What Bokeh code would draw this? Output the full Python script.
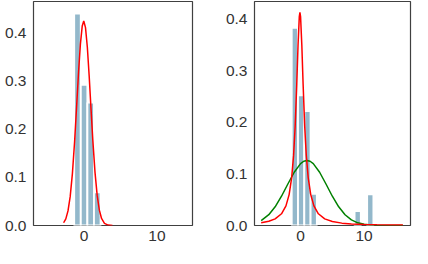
from bokeh.plotting import figure
from bokeh.layouts import row
from bokeh.models import FixedTicker, PrintfTickFormatter, Range1d
from bokeh.embed import file_html
from bokeh.resources import INLINE

# ---- data ----
# left panel: histogram (density) of data without outliers
left_bin_centers = [-0.90, 0.005, 0.91, 1.815]
left_bin_width = 0.905
left_heights = [0.440, 0.292, 0.255, 0.069]

# left panel: fitted normal curve (red)
left_fit_x = [-2.8, -2.5, -2.2, -1.9, -1.6, -1.3, -1.0, -0.75, -0.5, -0.25, -0.04,
              0.2, 0.45, 0.7, 0.95, 1.2, 1.5, 1.8, 2.1, 2.4, 2.8, 3.3, 3.9]
left_fit_y = [0.0057, 0.0138, 0.0303, 0.0599, 0.1071, 0.1729, 0.2520, 0.3191, 0.3765, 0.4140, 0.4244,
              0.4108, 0.3705, 0.3113, 0.2437, 0.1778, 0.1109, 0.0625, 0.0318, 0.0146, 0.0044, 0.0008, 0.0001]

# right panel: histogram (density) of data with outliers
right_bin_centers = [-0.90, 0.09, 1.08, 2.07, 8.99, 10.97]
right_bin_width = 0.99
right_heights = [0.383, 0.2525, 0.2217, 0.0612, 0.028, 0.0606]

# right panel: robust fit (red)
right_red_x = [-6.2, -5.0, -4.0, -3.0, -2.3, -1.8, -1.4, -1.1, -0.85, -0.6, -0.4, -0.2, -0.1,
               0.0, 0.2, 0.4, 0.65, 0.9, 1.2, 1.6, 2.1, 2.8, 3.8, 5.0, 6.5, 8.0, 10.0, 12.0, 14.0, 16.1]
right_red_y = [0.00537, 0.00826, 0.01289, 0.02274, 0.03797, 0.05987, 0.09283, 0.1358, 0.1923, 0.2735,
               0.3489, 0.4047, 0.413, 0.4047, 0.3489, 0.2735, 0.1923, 0.1358, 0.0928, 0.0599, 0.0380,
               0.0227, 0.0129, 0.0076, 0.00459, 0.00306, 0.00197, 0.00138, 0.00102, 0.00077]

# right panel: normal fit (green)
right_green_x = [-6.2, -5.0, -4.0, -3.0, -2.0, -1.0, 0.0, 0.5, 1.0, 1.5, 2.0, 3.0, 4.0, 5.0, 6.0,
                 7.0, 8.0, 9.0, 10.0, 11.0, 12.0, 13.5, 16.1]
right_green_y = [0.00949, 0.0209, 0.0362, 0.0567, 0.0804, 0.1032, 0.1199, 0.1245, 0.126, 0.1245, 0.1199,
                 0.1032, 0.0804, 0.0567, 0.0362, 0.0209, 0.01094, 0.00518, 0.00222, 0.00086, 0.0003,
                 0.00003, 0.0]

x_ticks = [0, 10]
y_ticks = [0.0, 0.1, 0.2, 0.3, 0.4]

BAR = "#93B8CB"
TXT = "#333333"
FONT = "Liberation Sans"


def style(p):
    p.xgrid.visible = False
    p.ygrid.visible = False
    p.outline_line_color = "#404040"
    p.outline_line_width = 1.2
    p.background_fill_color = "white"
    p.border_fill_color = "white"
    for ax in (p.xaxis[0], p.yaxis[0]):
        ax.axis_line_color = None
        ax.major_tick_line_color = None
        ax.minor_tick_line_color = None
        ax.major_tick_in = 0
        ax.major_tick_out = 0
        ax.minor_tick_in = 0
        ax.minor_tick_out = 0
        ax.major_label_text_font = FONT
        ax.major_label_text_font_size = "15.5px"
        ax.major_label_text_color = TXT
    p.xaxis[0].ticker = FixedTicker(ticks=x_ticks)
    p.yaxis[0].ticker = FixedTicker(ticks=y_ticks)
    p.yaxis[0].formatter = PrintfTickFormatter(format="%.1f")
    p.xaxis[0].major_label_standoff = 5
    p.yaxis[0].major_label_standoff = 7


def bars(p, centers, width, heights):
    lefts = [c - width / 2 for c in centers]
    rights = [c + width / 2 for c in centers]
    p.quad(left=lefts, right=rights, bottom=[0] * len(heights), top=heights,
           fill_color=BAR, line_color="white", line_width=1.9)


p1 = figure(width=206, height=248, output_backend="svg", toolbar_location=None,
            x_range=Range1d(-6.93, 14.87), y_range=Range1d(0, 0.465),
            min_border_left=33, min_border_right=14, min_border_top=1, min_border_bottom=23)
style(p1)
bars(p1, left_bin_centers, left_bin_width, left_heights)
p1.line(left_fit_x, left_fit_y, line_color="red", line_width=1.5)

p2 = figure(width=206, height=248, output_backend="svg", toolbar_location=None,
            x_range=Range1d(-7.25, 17.3), y_range=Range1d(0, 0.434),
            min_border_left=48, min_border_right=2, min_border_top=1, min_border_bottom=23)
style(p2)
bars(p2, right_bin_centers, right_bin_width, right_heights)
p2.line(right_green_x, right_green_y, line_color="green", line_width=1.5)
p2.line(right_red_x, right_red_y, line_color="red", line_width=1.5)

layout = row(p1, p2)
open("out.html", "w").write(file_html(layout, INLINE))
